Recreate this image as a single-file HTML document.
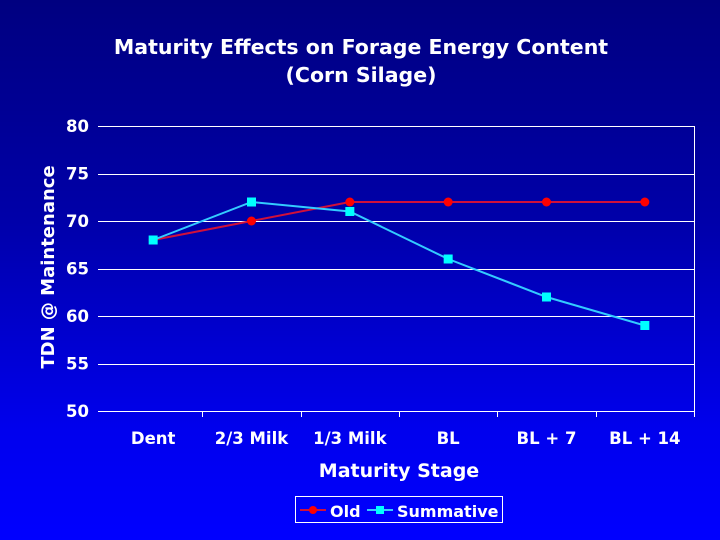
<!DOCTYPE html>
<html><head><meta charset="utf-8"><style>
html,body{margin:0;padding:0}
body{width:720px;height:540px;overflow:hidden;background:linear-gradient(180deg,#000080 0%,#0000a8 40%,#0000ee 80%,#0000ff 100%);font-family:"Liberation Sans",sans-serif}
svg{display:block}
svg text{font-family:"DejaVu Sans","Liberation Sans",sans-serif;font-weight:bold;fill:#fff}
</style></head><body>
<svg width="720" height="540">
<text x="361" y="54" font-size="20.5" text-anchor="middle">Maturity Effects on Forage Energy Content</text>
<text x="361" y="82" font-size="20.5" text-anchor="middle">(Corn Silage)</text>
<text transform="translate(54,267) rotate(-90)" font-size="18" text-anchor="middle">TDN @ Maintenance</text>
<text x="399" y="477" font-size="19" text-anchor="middle">Maturity Stage</text>
<g id="grid"></g><g id="series"></g>
<g>
<rect x="295.5" y="496.5" width="207" height="26" fill="none" stroke="#fff" stroke-width="1"/>
<line x1="300" y1="510" x2="326" y2="510" stroke="#d0103a" stroke-width="2"/>
<circle cx="313" cy="510" r="4" fill="#ff0000"/>
<text x="330" y="517" font-size="16">Old</text>
<line x1="367" y1="510" x2="393" y2="510" stroke="#33ccff" stroke-width="2"/>
<rect x="376" y="506" width="8" height="8" fill="#00ffff"/>
<text x="397" y="517" font-size="16">Summative</text>
</g>
</svg>
<script>
const categories=["Dent","2/3 Milk","1/3 Milk","BL","BL + 7","BL + 14"];
const oldValues=[68,70,72,72,72,72];
const summativeValues=[68,72,71,66,62,59];
const yTicks=[50,55,60,65,70,75,80];
const NS="http://www.w3.org/2000/svg";
const L=104,R=694,T=126,B=411,yMin=50,yMax=80;
const xs=i=>L+(R-L)/categories.length*(i+0.5);
const ys=v=>B-(v-yMin)/(yMax-yMin)*(B-T);
function mk(tag,attrs,parent){const e=document.createElementNS(NS,tag);for(const k in attrs)e.setAttribute(k,attrs[k]);parent.appendChild(e);return e;}
const g=document.getElementById('grid');
yTicks.forEach(v=>{
 const y=Math.round(ys(v))+0.5;
 const l=mk('line',{x1:98,x2:R,y1:y,y2:y,stroke:'#fff','stroke-width':1},g);
 
 
 const t=mk('text',{x:89,y:ys(v)+6,'font-size':16.5,'text-anchor':'end'},g);
 t.textContent=v;
 
 
});
const rb=mk('line',{x1:R+0.5,x2:R+0.5,y1:T,y2:B+6,stroke:'#fff','stroke-width':1},g);


categories.forEach((c,i)=>{
 const tx=Math.round(L+(R-L)/categories.length*(i+1))+0.5;
 if(i<categories.length-1){const tk=mk('line',{x1:tx,x2:tx,y1:B,y2:B+6,stroke:'#fff'},g);
 
 }
 const t=mk('text',{x:xs(i),y:444,'font-size':16.5,'text-anchor':'middle'},g);
 t.textContent=c;
 
 
});
const s=document.getElementById('series');
function series(vals,color,mcolor,square,name){
 const p=mk('polyline',{points:vals.map((v,i)=>xs(i)+','+ys(v)).join(' '),fill:'none',stroke:color,'stroke-width':2},s);
 
 
 vals.forEach((v,i)=>{
  let m;
  if(square)m=mk('rect',{x:xs(i)-4.5,y:ys(v)-4.5,width:9,height:9,fill:mcolor},s);
  else m=mk('circle',{cx:xs(i),cy:ys(v),r:4.5,fill:mcolor},s);
  
  
 });
}
series(oldValues,'#d0103a','#ff0000',false,'old');
series(summativeValues,'#33ccff','#00ffff',true,'summative');
</script>
</body></html>
